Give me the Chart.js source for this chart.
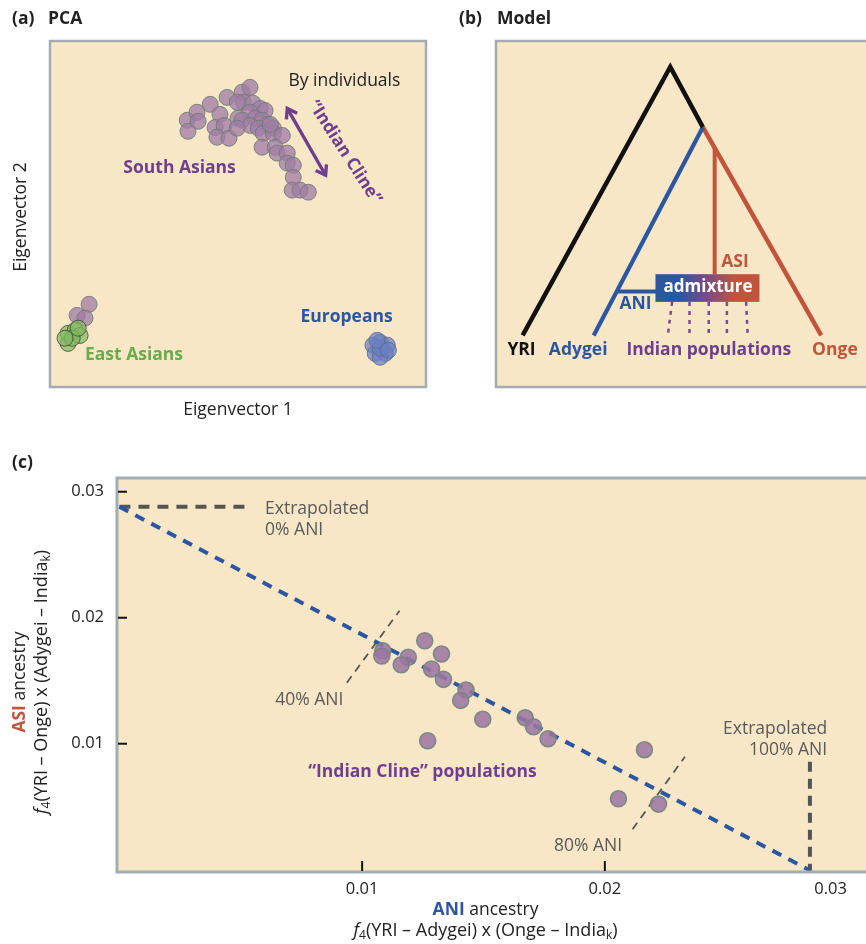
<!DOCTYPE html>
<html>
<head>
<meta charset="utf-8">
<script src="https://cdn.jsdelivr.net/npm/chart.js@4.4.0/dist/chart.umd.min.js"></script>
<style>
html,body{margin:0;padding:0;background:#fff;overflow:hidden;width:866px;height:944px;}
canvas{position:absolute;display:block;}
#ca{left:0;top:0;}
#cb{left:433px;top:0;}
#cc{left:0;top:430px;}
</style>
</head>
<body>
<canvas id="ca" width="433" height="430"></canvas>
<canvas id="cb" width="433" height="430"></canvas>
<canvas id="cc" width="866" height="514"></canvas>
<script>
// ================= DATA =================
// Panel (a): PCA (arbitrary eigenvector units 0-100)
const southAsiansEV1 = [36.5,36.7,39.1,39.4,42.6,45.2,43.9,46.3,44.4,47.6,47.1,50.0,51.1,51.4,53.2,49.8,54.0,55.9,57.2,53.2,51.1,54.6,56.4,57.8,59.4,53.2,55.4,49.8,56.7,59.4,61.8,56.4,59.9,60.4,63.1,63.1,64.7,64.7,64.4,66.5,68.7,58.6];
const southAsiansEV2 = [77.1,73.9,79.4,76.8,81.7,78.8,75.0,75.6,72.2,71.9,83.7,77.7,85.2,82.3,86.6,82.3,82.0,80.5,79.9,79.4,77.1,77.7,77.1,75.9,74.8,75.6,74.8,74.8,73.3,73.3,72.7,69.3,69.3,67.6,67.6,64.7,64.1,60.6,56.9,56.9,56.3,75.9];
const eaSouthAsianEV1 = [10.4,7.2,9.3];
const eaSouthAsianEV2 = [23.9,20.7,19.9];
const eastAsiansEV1 = [4.8,4.8,6.7,8.0,5.9,7.5,4.0];
const eastAsiansEV2 = [12.6,15.5,16.4,14.9,14.1,17.0,14.1];
const europeansEV1 = [87.8,85.9,89.7,86.5,89.2,87.8,87.8,87.0,90.0];
const europeansEV2 = [12.9,12.1,12.1,9.7,9.7,8.6,11.2,13.5,10.6];

// Panel (b): model tree (node coordinates, arbitrary units 0-100)
const yriLeaf = [7.2,14.9];
const rootNode = [47.1,92.5];
const splitNode = [55.9,75.1];
const adygeiLeaf = [26.4,14.9];
const ongeLeaf = [87.9,14.9];
const aniBranchX = [32.9,43.4];
const aniBranchY = [27.6,27.6];
const asiBranchX = [59.1,59.1];
const asiBranchY = [69.4,32.6];
const admixBoxX = [43.1,71.2];
const admixBoxY = [24.6,32.6];
const indianTopX = [47.6,52.3,57.5,62.4,67.6];
const indianBottomX = [46.5,52.3,57.5,62.4,68.0];
const indianTopY = 24.6, indianBottomY = 15.4;

// Panel (c): f4 ratio estimates for "Indian Cline" populations
const aniAncestry = [0.01085,0.01081,0.01190,0.01161,0.01258,0.01327,0.01286,0.01335,0.01428,0.01406,0.01497,0.01270,0.01672,0.01706,0.01766,0.02163,0.02056,0.02221];
const asiAncestry = [0.01738,0.01696,0.01686,0.01627,0.01817,0.01712,0.01593,0.01511,0.01426,0.01344,0.01194,0.01024,0.01206,0.01135,0.01040,0.00952,0.00563,0.00521];
const fitANI = [0.0, 0.0284];
const fitASI = [0.0288, 0.0];
const zeroANI_X = [0.0, 0.00525];
const zeroANI_Y = [0.0288, 0.0288];
const fullANI_X = [0.02845, 0.02845];
const fullANI_Y = [0.00857, -0.0002];
const ani40X = [0.00937, 0.01154];
const ani40Y = [0.01484, 0.02056];
const ani80X = [0.02114, 0.02330];
const ani80Y = [0.00321, 0.00897];
const xTickValues = [0.01, 0.02, 0.0293];
const xTickLabels = ['0.01','0.02','0.03'];
const yTickValues = [0.01, 0.02, 0.03];
const yTickLabels = ['0.01','0.02','0.03'];

// ================= HELPERS =================
const F = "'Open Sans', 'Noto Sans', sans-serif";
const BG = '#f8e7c7';
const BORDER = '#a4acb3';
const PURPLE = '#6d3f8e';
const BLUE = '#2b56a2';
const ORANGE = '#c1543b';
const GREEN = '#6aab4c';
const GRAYT = '#5a5a5a';
const BOLD = `bold 17.5px ${F}`;
const REG = `17.5px ${F}`;

function zip(xs, ys){ return xs.map((x,i)=>({x:x, y:ys[i]})); }
function rich(ctx, segs, x, y, align){
  let w = 0;
  segs.forEach(s=>{ ctx.font = s.font; s.w = ctx.measureText(s.t).width; w += s.w; });
  let cx = align==='center' ? x - w/2 : (align==='right' ? x - w : x);
  ctx.textAlign = 'left'; ctx.textBaseline = 'middle';
  segs.forEach(s=>{ ctx.font = s.font; ctx.fillStyle = s.color; ctx.fillText(s.t, cx, y + (s.dy||0)); cx += s.w; });
}
function txt(ctx, t, x, y, font, color, align){
  ctx.font = font; ctx.fillStyle = color; ctx.textAlign = align||'left'; ctx.textBaseline = 'middle';
  ctx.fillText(t, x, y);
}
function fillBg(chart){
  const a = chart.chartArea, ctx = chart.ctx;
  ctx.save(); ctx.fillStyle = BG; ctx.fillRect(a.left, a.top, a.right-a.left, a.bottom-a.top); ctx.restore();
}
const hiddenScale = (min,max)=>({type:'linear', min:min, max:max, display:false});
const baseOpts = {responsive:false, animation:false, events:[], plugins:{legend:{display:false}, tooltip:{enabled:false}}};

// ================= PANEL (a) =================
const purplePt = {pointRadius:8, backgroundColor:'rgba(160,124,166,0.76)', borderColor:'rgba(105,125,112,0.85)', borderWidth:1};
new Chart(document.getElementById('ca'), {
  type:'scatter',
  data:{datasets:[
    Object.assign({data:zip(eastAsiansEV1, eastAsiansEV2)}, purplePt, {backgroundColor:'rgba(132,184,98,0.72)', borderColor:'rgba(60,80,60,0.85)'}),
    Object.assign({data:zip(eaSouthAsianEV1, eaSouthAsianEV2)}, purplePt),
    Object.assign({data:zip(southAsiansEV1, southAsiansEV2)}, purplePt),
    Object.assign({data:zip(europeansEV1, europeansEV2)}, purplePt, {backgroundColor:'rgba(105,128,196,0.72)', borderColor:'rgba(95,105,140,0.85)'})
  ]},
  options:Object.assign({}, baseOpts, {
    layout:{autoPadding:false, padding:{left:50, top:41, right:7, bottom:43}},
    scales:{x:hiddenScale(0,100), y:hiddenScale(0,100)}
  }),
  plugins:[{
    id:'pa',
    beforeDatasetsDraw(chart){ fillBg(chart); },
    afterDatasetsDraw(chart){
      const ctx = chart.ctx, a = chart.chartArea, sx = chart.scales.x, sy = chart.scales.y;
      ctx.save();
      ctx.strokeStyle = BORDER; ctx.lineWidth = 2.5;
      ctx.strokeRect(a.left, a.top, a.right-a.left, a.bottom-a.top);
      // titles
      txt(ctx, '(a)', 12, 19, BOLD, '#222');
      txt(ctx, 'PCA', 48, 19, BOLD, '#222');
      txt(ctx, 'Eigenvector 1', (a.left+a.right)/2, 410, REG, '#222', 'center');
      ctx.save(); ctx.translate(21, (a.top+a.bottom)/2+3); ctx.rotate(-Math.PI/2);
      txt(ctx, 'Eigenvector 2', 0, 0, REG, '#222', 'center'); ctx.restore();
      // annotations
      txt(ctx, 'By individuals', sx.getPixelForValue(63.4), sy.getPixelForValue(88.4), REG, '#222');
      txt(ctx, 'South Asians', sx.getPixelForValue(19.5), sy.getPixelForValue(63.3), BOLD, PURPLE);
      txt(ctx, 'Europeans', sx.getPixelForValue(66.6), sy.getPixelForValue(20.3), BOLD, BLUE);
      txt(ctx, 'East Asians', sx.getPixelForValue(9.3), sy.getPixelForValue(9.2), BOLD, GREEN);
      // arrow
      const x1 = sx.getPixelForValue(63.1), y1 = sy.getPixelForValue(80.5);
      const x2 = sx.getPixelForValue(73.3), y2 = sy.getPixelForValue(61.2);
      ctx.strokeStyle = PURPLE; ctx.lineWidth = 3.4; ctx.lineCap = 'butt';
      ctx.beginPath(); ctx.moveTo(x1,y1); ctx.lineTo(x2,y2); ctx.stroke();
      const ang = Math.atan2(y2-y1, x2-x1);
      [[x1,y1,ang+Math.PI],[x2,y2,ang]].forEach(([px,py,t])=>{
        ctx.beginPath();
        ctx.moveTo(px - 11*Math.cos(t-0.6), py - 11*Math.sin(t-0.6));
        ctx.lineTo(px, py);
        ctx.lineTo(px - 11*Math.cos(t+0.6), py - 11*Math.sin(t+0.6));
        ctx.stroke();
      });
      ctx.save(); ctx.translate(sx.getPixelForValue(78.4), sy.getPixelForValue(67.8)); ctx.rotate(57*Math.PI/180);
      txt(ctx, '\u201CIndian Cline\u201D', 0, 0, BOLD, PURPLE, 'center'); ctx.restore();
      ctx.restore();
    }
  }]
});

// ================= PANEL (b) =================
const branch = (pts, color, w)=>({type:'line', data:pts.map(p=>({x:p[0], y:p[1]})), borderColor:color, borderWidth:w, pointRadius:0, fill:false, tension:0, borderJoinStyle:'miter', borderCapStyle:'butt'});
const dotted = indianTopX.map((x,i)=>({type:'line', data:[{x:x,y:indianTopY},{x:indianBottomX[i],y:indianBottomY}], borderColor:'#7b4b9b', borderWidth:2.5, borderDash:[4,5], pointRadius:0, fill:false}));
new Chart(document.getElementById('cb'), {
  type:'scatter',
  data:{datasets:[
    branch([yriLeaf, rootNode, splitNode], '#111111', 4.5),
    branch([adygeiLeaf, splitNode], BLUE, 4.2),
    branch([splitNode, ongeLeaf], ORANGE, 4.5),
    branch(zip(aniBranchX, aniBranchY).map(p=>[p.x,p.y]), BLUE, 4),
    branch(zip(asiBranchX, asiBranchY).map(p=>[p.x,p.y]), ORANGE, 4)
  ].concat(dotted)},
  options:Object.assign({}, baseOpts, {
    layout:{autoPadding:false, padding:{left:63, top:41, right:0, bottom:43}},
    scales:{x:hiddenScale(0,100), y:hiddenScale(0,100)}
  }),
  plugins:[{
    id:'pb',
    beforeDatasetsDraw(chart){ fillBg(chart); },
    afterDatasetsDraw(chart){
      const ctx = chart.ctx, a = chart.chartArea, sx = chart.scales.x, sy = chart.scales.y;
      ctx.save();
      ctx.strokeStyle = BORDER; ctx.lineWidth = 2.5;
      ctx.beginPath(); ctx.moveTo(a.right+3, a.top); ctx.lineTo(a.left, a.top); ctx.lineTo(a.left, a.bottom); ctx.lineTo(a.right+3, a.bottom); ctx.stroke();
      txt(ctx, '(b)', 26, 19, BOLD, '#222');
      txt(ctx, 'Model', 64, 19, BOLD, '#222');
      // admixture box
      const bx1 = sx.getPixelForValue(admixBoxX[0]), bx2 = sx.getPixelForValue(admixBoxX[1]);
      const by1 = sy.getPixelForValue(admixBoxY[1]), by2 = sy.getPixelForValue(admixBoxY[0]);
      const g = ctx.createLinearGradient(bx1, 0, bx2, 0);
      g.addColorStop(0, BLUE); g.addColorStop(0.22, BLUE); g.addColorStop(0.5, '#7a4a86'); g.addColorStop(0.76, ORANGE); g.addColorStop(1, ORANGE);
      ctx.fillStyle = g; ctx.fillRect(bx1, by1, bx2-bx1, by2-by1);
      txt(ctx, 'admixture', sx.getPixelForValue(57.3), sy.getPixelForValue(28.9), `bold 17px ${F}`, '#ffffff', 'center');
      txt(ctx, 'ASI', sx.getPixelForValue(64.6), sy.getPixelForValue(36.1), BOLD, ORANGE, 'center');
      txt(ctx, 'ANI', sx.getPixelForValue(37.7), sy.getPixelForValue(23.9), BOLD, BLUE, 'center');
      const ly = sy.getPixelForValue(10.6);
      txt(ctx, 'YRI', sx.getPixelForValue(6.9), ly, BOLD, '#111', 'center');
      txt(ctx, 'Adygei', sx.getPixelForValue(22.2), ly, BOLD, BLUE, 'center');
      txt(ctx, 'Indian populations', sx.getPixelForValue(57.5), ly, BOLD, PURPLE, 'center');
      txt(ctx, 'Onge', sx.getPixelForValue(91.6), ly, BOLD, ORANGE, 'center');
      ctx.restore();
    }
  }]
});

// ================= PANEL (c) =================
const dashLine = (xs, ys, color, w, dash)=>({type:'line', data:zip(xs, ys), borderColor:color, borderWidth:w, borderDash:dash, pointRadius:0, fill:false, tension:0, borderCapStyle:'butt'});
new Chart(document.getElementById('cc'), {
  type:'scatter',
  data:{datasets:[
    {data:zip(aniAncestry, asiAncestry), pointRadius:8, backgroundColor:'rgba(156,118,162,0.86)', borderColor:'rgba(118,134,126,0.95)', borderWidth:1.6},
    dashLine(fitANI, fitASI, BLUE, 4, [10,8]),
    dashLine(zeroANI_X, zeroANI_Y, '#555555', 4, [11,8]),
    dashLine(fullANI_X, fullANI_Y, '#555555', 4, [10,7]),
    dashLine(ani40X, ani40Y, '#555555', 1.8, [8,6]),
    dashLine(ani80X, ani80Y, '#555555', 1.8, [8,6])
  ]},
  options:Object.assign({}, baseOpts, {
    layout:{autoPadding:false, padding:{left:0, top:48, right:0, bottom:0}},
    scales:{
      x:{type:'linear', min:-0.0001, max:0.03076,
         afterBuildTicks(s){ s.ticks = xTickValues.map(v=>({value:v})); },
         afterFit(s){ s.height = 72; s.paddingLeft = 0; s.paddingRight = 0; },
         grid:{display:false, drawTicks:false}, border:{display:false},
         ticks:{padding:7, color:'#222', font:{family:F, size:16.5}, callback:(v,i)=>xTickLabels[i]}},
      y:{type:'linear', min:-0.00018, max:0.03109,
         afterBuildTicks(s){ s.ticks = yTickValues.map(v=>({value:v})); },
         afterFit(s){ s.width = 117; s.paddingTop = 0; s.paddingBottom = 0; },
         grid:{display:false, drawTicks:false}, border:{display:false},
         ticks:{padding:13, color:'#222', font:{family:F, size:16.5}, callback:(v,i)=>yTickLabels[i]}}
    }
  }),
  plugins:[{
    id:'pc',
    beforeDatasetsDraw(chart){ fillBg(chart); },
    afterDatasetsDraw(chart){
      const ctx = chart.ctx, a = chart.chartArea, sx = chart.scales.x, sy = chart.scales.y;
      ctx.save();
      ctx.strokeStyle = BORDER; ctx.lineWidth = 3;
      ctx.beginPath(); ctx.moveTo(a.right+3, a.top); ctx.lineTo(a.left, a.top); ctx.lineTo(a.left, a.bottom); ctx.lineTo(a.right+3, a.bottom); ctx.stroke();
      // inward tick marks
      ctx.strokeStyle = '#111'; ctx.lineWidth = 2;
      yTickValues.forEach(v=>{ const p = sy.getPixelForValue(v); ctx.beginPath(); ctx.moveTo(a.left+1, p); ctx.lineTo(a.left+10, p); ctx.stroke(); });
      xTickValues.slice(0,2).forEach(v=>{ const p = sx.getPixelForValue(v); ctx.beginPath(); ctx.moveTo(p, a.bottom-1); ctx.lineTo(p, a.bottom-11); ctx.stroke(); });
      txt(ctx, '(c)', 12, 33, BOLD, '#222');
      // annotations
      txt(ctx, 'Extrapolated', sx.getPixelForValue(0.0060), sy.getPixelForValue(0.02863), REG, GRAYT);
      txt(ctx, '0% ANI', sx.getPixelForValue(0.0060), sy.getPixelForValue(0.02863)+21, REG, GRAYT);
      txt(ctx, '40% ANI', sx.getPixelForValue(0.00642), sy.getPixelForValue(0.01347), REG, GRAYT);
      txt(ctx, 'Extrapolated', sx.getPixelForValue(0.02916), sy.getPixelForValue(0.01119), REG, GRAYT, 'right');
      txt(ctx, '100% ANI', sx.getPixelForValue(0.02916), sy.getPixelForValue(0.01119)+21, REG, GRAYT, 'right');
      txt(ctx, '80% ANI', sx.getPixelForValue(0.0179), sy.getPixelForValue(0.0019), REG, GRAYT);
      txt(ctx, '\u201CIndian Cline\u201D populations', sx.getPixelForValue(0.00778), sy.getPixelForValue(0.00775), BOLD, PURPLE);
      // axis titles
      const B = `bold 17.5px ${F}`, N = `17.5px ${F}`, N2 = `18px ${F}`, I = `italic 18px ${F}`, S = `12px ${F}`;
      const cxT = (a.left+a.right)/2 - 6;
      rich(ctx, [{t:'ANI', font:B, color:BLUE},{t:' ancestry', font:N, color:'#222'}], cxT, 480, 'center');
      rich(ctx, [{t:'f', font:I, color:'#222'},{t:'4', font:S, color:'#222', dy:5},{t:'(YRI \u2013 Adygei) x (Onge \u2013 India', font:N2, color:'#222'},{t:'k', font:S, color:'#222', dy:5},{t:')', font:N2, color:'#222'}], cxT, 501, 'center');
      ctx.save(); ctx.translate(20, 252); ctx.rotate(-Math.PI/2);
      rich(ctx, [{t:'ASI', font:B, color:ORANGE},{t:' ancestry', font:N, color:'#222'}], 0, 0, 'center');
      ctx.restore();
      ctx.save(); ctx.translate(42, 252); ctx.rotate(-Math.PI/2);
      rich(ctx, [{t:'f', font:I, color:'#222'},{t:'4', font:S, color:'#222', dy:5},{t:'(YRI \u2013 Onge) x (Adygei \u2013 India', font:N2, color:'#222'},{t:'k', font:S, color:'#222', dy:5},{t:')', font:N2, color:'#222'}], 0, 0, 'center');
      ctx.restore();
      ctx.restore();
    }
  }]
});
</script>
</body>
</html>
